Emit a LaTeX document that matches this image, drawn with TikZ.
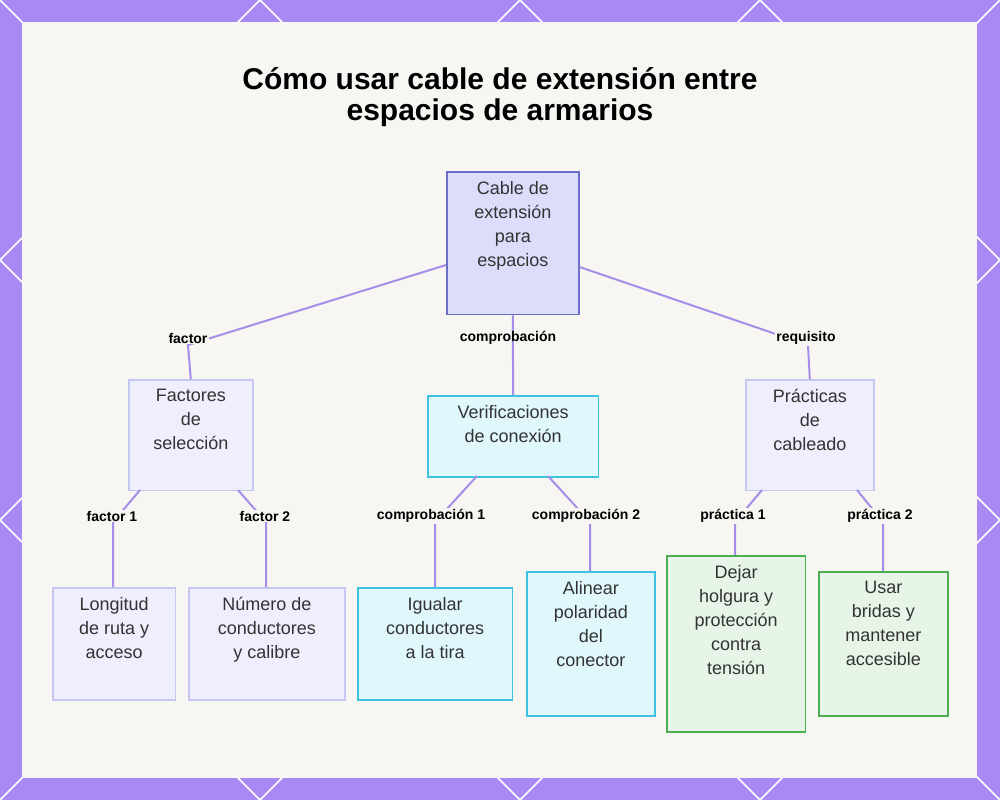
\documentclass[tikz,border=0pt]{standalone}
\usepackage{fontspec}
\setmainfont{Liberation Sans}
\usetikzlibrary{positioning}
\definecolor{frame}{HTML}{A98AF5}
\definecolor{panel}{HTML}{F8F6F2}
\definecolor{edge}{HTML}{A68EE8}
\definecolor{rootfill}{HTML}{DCDCFB}
\definecolor{rootline}{HTML}{6A70C8}
\definecolor{lavfill}{HTML}{EEEEFC}
\definecolor{lavline}{HTML}{C5C8F0}
\definecolor{cyanfill}{HTML}{E0F7FC}
\definecolor{cyanline}{HTML}{3EC2E0}
\definecolor{greenfill}{HTML}{E6F5E8}
\definecolor{greenline}{HTML}{4CAF50}
\definecolor{ink}{HTML}{333333}
\newcommand{\boxtxt}[3]{\parbox[c][#2][t]{#1}{\centering\fontsize{13.5}{18}\selectfont\vspace{7pt}#3}}
\begin{document}
\begin{tikzpicture}[x=0.75pt,y=-0.75pt,
    every text node part/.style={align=center},
    box/.style={draw,line width=1.2pt,inner sep=0pt,text=ink,anchor=north west},
    root/.style={box,fill=rootfill,draw=rootline},
    lav/.style={box,fill=lavfill,draw=lavline},
    cy/.style={box,fill=cyanfill,draw=cyanline},
    gr/.style={box,fill=greenfill,draw=greenline},
    link/.style={draw=edge,line width=1.5pt},
    tag/.style={font=\fontsize{10.5}{12}\selectfont\bfseries,text=black,inner sep=1pt}]
  \useasboundingbox (0,0) rectangle (1000,800);
  \fill[frame] (0,0) rectangle (1000,800);
  \begin{scope}
    \clip (0,0) rectangle (1000,800);
    \foreach \s in {0,260,520,760,1000}
      \draw[white,line width=1.2pt] (\s-30,-30) -- (\s+60,60);
    \foreach \s in {0,260,520,760,1000}
      \draw[white,line width=1.2pt] (\s+30,-30) -- (\s-60,60);
    \foreach \s in {0,260,520,760,1000}
      \draw[white,line width=1.2pt] (\s-30,830) -- (\s+60,740) (\s+30,830) -- (\s-60,740);
    \foreach \s in {260,520}
      \draw[white,line width=1.2pt] (-40,\s-40) -- (40,\s+40) (-40,\s+40) -- (40,\s-40)
        (960,\s-40) -- (1040,\s+40) (960,\s+40) -- (1040,\s-40);
  \end{scope}
  \fill[panel] (22,22) rectangle (977,778);

  \node[font=\fontsize{22.5}{23.5}\selectfont\bfseries,text=black] (title) at (500,97)
    {Cómo usar cable de extensión entre\\espacios de armarios};

  \node[root] (cable) at (446,171) {\boxtxt{99pt}{107pt}{Cable de\\extensión\\para\\espacios}};
  \node[lav] (factores) at (128,379) {\boxtxt{93pt}{83pt}{Factores\\de\\selección}};
  \node[cy] (verif) at (427,395) {\boxtxt{128pt}{61pt}{Verificaciones\\de conexión}};
  \node[lav] (practicas) at (745,379) {\boxtxt{96pt}{83pt}{Prácticas\\de\\cableado}};
  \node[lav] (longitud) at (52,587) {\boxtxt{92pt}{84pt}{Longitud\\de ruta y\\acceso}};
  \node[lav] (numero) at (188,587) {\boxtxt{117pt}{84pt}{Número de\\conductores\\y calibre}};
  \node[cy] (igualar) at (357,587) {\boxtxt{116pt}{84pt}{Igualar\\conductores\\a la tira}};
  \node[cy] (alinear) at (526,571) {\boxtxt{96pt}{108pt}{Alinear\\polaridad\\del\\conector}};
  \node[gr] (dejar) at (666,555) {\boxtxt{104pt}{132pt}{Dejar\\holgura y\\protección\\contra\\tensión}};
  \node[gr] (usar) at (818,571) {\boxtxt{97pt}{108pt}{Usar\\bridas y\\mantener\\accesible}};

  % level one
  \coordinate (k1) at (188,345);
  \coordinate (k2) at (808,345);
  \path[link] (cable.west |- 0,265) -- (k1) -- (factores.north);
  \path[link] (cable.south) -- (verif.north);
  \path[link] (cable.east |- 0,267) -- (k2) -- (practicas.north);
  \node[tag,fill=panel] (t1) at (188,338) {factor};
  \node[tag] (t2) at (508,338) {comprobación};
  \node[tag,fill=panel] (t3) at (806,338) {requisito};

  % level two
  \coordinate (b1) at (113,522);
  \coordinate (b2) at (266,522);
  \coordinate (b3) at (435,522);
  \coordinate (b4) at (590,522);
  \coordinate (b5) at (735,522);
  \coordinate (b6) at (883,522);
  \path[link] (140,490) -- (b1) -- (longitud.north -| b1);
  \path[link] (238,490) -- (b2) -- (numero.north -| b2);
  \path[link] (477,476) -- (b3) -- (igualar.north -| b3);
  \path[link] (548,476) -- (b4) -- (alinear.north -| b4);
  \path[link] (762,490) -- (b5) -- (dejar.north -| b5);
  \path[link] (857,490) -- (b6) -- (usar.north -| b6);
  \node[tag,fill=panel] (f1) at (112,516) {factor 1};
  \node[tag,fill=panel] (f2) at (265,516) {factor 2};
  \node[tag,fill=panel] (c1) at (431,516) {comprobación 1};
  \node[tag,fill=panel] (c2) at (586,516) {comprobación 2};
  \node[tag,fill=panel] (p1) at (733,516) {práctica 1};
  \node[tag,fill=panel] (p2) at (880,516) {práctica 2};
\end{tikzpicture}
\end{document}
